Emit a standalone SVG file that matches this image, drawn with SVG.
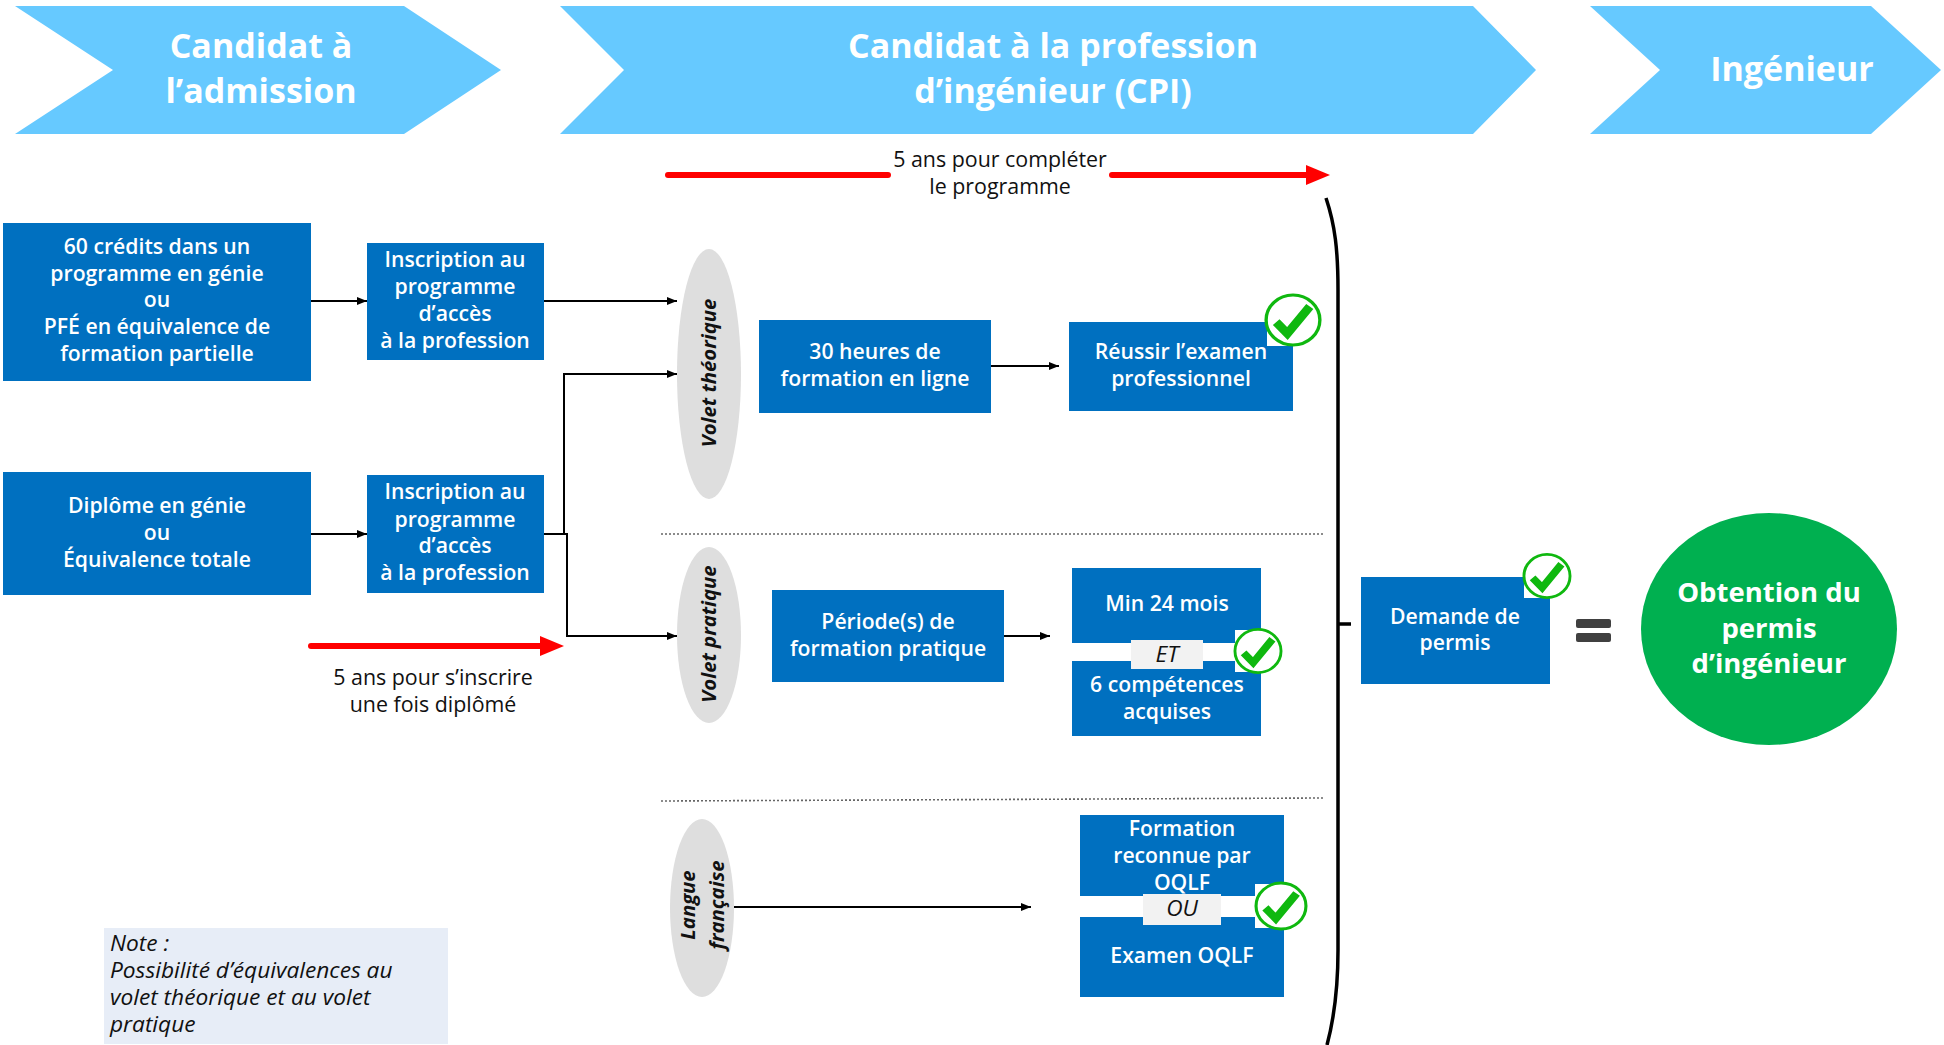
<svg xmlns="http://www.w3.org/2000/svg" width="1944" height="1045" viewBox="0 0 1944 1045">
<style>
text{font-family:"Open Sans","Noto Sans","Liberation Sans",sans-serif;text-anchor:middle}
.chev{fill:#66c9ff}
.hd{fill:#fff;font-size:34px;font-weight:700}
.box{fill:#0070c0}
.t{fill:#fff;font-size:21.2px;font-weight:600}
.e{fill:#dedede}
.v{fill:#111;font-size:20.3px;font-weight:700;font-style:italic}
.c{fill:none;stroke:#000;stroke-width:2}
.r{fill:none;stroke:#f00;stroke-width:6;stroke-linecap:round}
.dot{fill:none;stroke:#666;stroke-width:1.6;stroke-dasharray:2 2}
.k{fill:#111;font-size:21.4px}
.lab{fill:#f2f2f2}
.it{fill:#111;font-size:22.7px;font-style:italic}
.sq{fill:#fff}
.cc{fill:#fff;stroke:#0fb80f;stroke-width:3}
.tick{fill:none;stroke:#0fb80f;stroke-width:8}
.big{fill:#fff;font-size:27.5px;font-weight:700}
</style>
<defs>
<marker id="a" markerWidth="10" markerHeight="8" refX="10" refY="4" orient="auto" markerUnits="userSpaceOnUse"><path d="M0 0L10 4L0 8Z" fill="#000"/></marker>
<g id="ck"><circle class="cc" cx="0" cy="0" r="24"/><path d="M-15 2L-5 13L15 -13" class="tick"/></g>
</defs>

<g id="phase-admission"><polygon class="chev" points="15,6 404,6 501,70 404,134 15,134 113,70"/><text class="hd" x="261" y="58">Candidat à</text><text class="hd" x="261" y="103">l’admission</text></g>
<g id="phase-cpi"><polygon class="chev" points="560,6 1473,6 1536,70 1473,134 560,134 624,70"/><text class="hd" x="1053" y="58">Candidat à la profession</text><text class="hd" x="1053" y="103">d’ingénieur (CPI)</text></g>
<g id="phase-ing"><polygon class="chev" points="1590,6 1871,6 1941,70 1871,134 1590,134 1660,70"/><text class="hd" x="1792" y="81">Ingénieur</text></g>

<g id="connectors">
<path class="c" marker-end="url(#a)" d="M311 301H367"/>
<path class="c" marker-end="url(#a)" d="M544 301H677"/>
<path class="c" marker-end="url(#a)" d="M311 534H367"/>
<path class="c" marker-end="url(#a)" d="M544 534H564V374H677"/>
<path class="c" marker-end="url(#a)" d="M564 534H567V636H677"/>
<path class="c" marker-end="url(#a)" d="M991 366H1059"/>
<path class="c" marker-end="url(#a)" d="M1004 636H1050"/>
<path class="c" marker-end="url(#a)" d="M734 907H1031"/>
<path class="r" d="M311 646H540"/>
<polygon fill="#f00" points="540,636 564,646 540,656"/>
<path class="r" d="M668 175H888"/>
<path class="r" d="M1112 175H1306"/>
<polygon fill="#f00" points="1306,165 1330,175 1306,185"/>
<path class="dot" d="M661 534H1323"/>
<path class="dot" d="M661 801L1323 798"/>
<path d="M1326 198C1335 225 1338 250 1338 290V950C1338 985 1335 1015 1327 1045M1338 624H1351" fill="none" stroke="#000" stroke-width="3.5"/>
</g>

<g id="n1"><rect class="box" x="3" y="223" width="308" height="158"/><text class="t" x="157" y="254">60 crédits dans un</text><text class="t" x="157" y="281">programme en génie</text><text class="t" x="157" y="307">ou</text><text class="t" x="157" y="334">PFÉ en équivalence de</text><text class="t" x="157" y="361">formation partielle</text></g>
<g id="n2"><rect class="box" x="367" y="243" width="177" height="117"/><text class="t" x="455" y="267">Inscription au</text><text class="t" x="455" y="294">programme</text><text class="t" x="455" y="321">d’accès</text><text class="t" x="455" y="348">à la profession</text></g>
<g id="n3"><rect class="box" x="3" y="472" width="308" height="123"/><text class="t" x="157" y="513">Diplôme en génie</text><text class="t" x="157" y="540">ou</text><text class="t" x="157" y="567">Équivalence totale</text></g>
<g id="n4"><rect class="box" x="367" y="475" width="177" height="118"/><text class="t" x="455" y="499">Inscription au</text><text class="t" x="455" y="527">programme</text><text class="t" x="455" y="553">d’accès</text><text class="t" x="455" y="580">à la profession</text></g>

<g id="label-5ans-inscrire"><text class="k" x="433" y="685">5 ans pour s’inscrire</text><text class="k" x="433" y="712">une fois diplômé</text></g>
<g id="label-5ans-completer"><text class="k" x="1000" y="167">5 ans pour compléter</text><text class="k" x="1000" y="194">le programme</text></g>

<g id="volet-theorique"><ellipse class="e" cx="709" cy="374" rx="32" ry="125"/><text class="v" transform="translate(716 373) rotate(-90)">Volet théorique</text></g>
<g id="volet-pratique"><ellipse class="e" cx="709" cy="635" rx="32" ry="88"/><text class="v" transform="translate(716 634) rotate(-90)">Volet pratique</text></g>
<g id="langue"><ellipse class="e" cx="702" cy="908" rx="32" ry="89"/><text class="v" transform="translate(695 905) rotate(-90)">Langue</text><text class="v" transform="translate(724 905) rotate(-90)">française</text></g>

<g id="n5"><rect class="box" x="759" y="320" width="232" height="93"/><text class="t" x="875" y="359">30 heures de</text><text class="t" x="875" y="386">formation en ligne</text></g>
<g id="n6"><rect class="box" x="1069" y="322" width="224" height="89"/><text class="t" x="1181" y="359">Réussir l’examen</text><text class="t" x="1181" y="386">professionnel</text><rect class="sq" x="1267" y="322" width="26" height="24"/><use href="#ck" transform="translate(1293 320) scale(1.12 1.04)"/></g>
<g id="n7"><rect class="box" x="772" y="590" width="232" height="92"/><text class="t" x="888" y="629">Période(s) de</text><text class="t" x="888" y="656">formation pratique</text></g>
<g id="n8"><rect class="box" x="1072" y="568" width="189" height="75"/><text class="t" x="1167" y="611">Min 24 mois</text><rect class="box" x="1072" y="661" width="189" height="75"/><text class="t" x="1167" y="692">6 compétences</text><text class="t" x="1167" y="719">acquises</text><rect class="lab" x="1131" y="640" width="72" height="29"/><text class="it" x="1167" y="662">ET</text><rect class="sq" x="1235" y="630" width="27" height="42"/><use href="#ck" transform="translate(1258 651) scale(.96 .9)"/></g>
<g id="n9"><rect class="box" x="1080" y="815" width="204" height="81"/><text class="t" x="1182" y="836">Formation</text><text class="t" x="1182" y="863">reconnue par</text><text class="t" x="1182" y="890">OQLF</text><rect class="box" x="1080" y="917" width="204" height="80"/><text class="t" x="1182" y="963">Examen OQLF</text><rect class="lab" x="1143" y="894" width="78" height="31"/><text class="it" x="1182" y="916">OU</text><rect class="sq" x="1255" y="884" width="29" height="44"/><use href="#ck" transform="translate(1281 906) scale(1.04 .96)"/></g>
<g id="n10"><rect class="box" x="1361" y="577" width="189" height="107"/><text class="t" x="1455" y="624">Demande de</text><text class="t" x="1455" y="650">permis</text><rect class="sq" x="1524" y="577" width="26" height="21"/><use href="#ck" transform="translate(1547 576) scale(.96 .9)"/></g>
<g id="equals"><rect x="1576" y="619" width="35" height="9" rx="2" fill="#404040"/><rect x="1576" y="633" width="35" height="9" rx="2" fill="#404040"/></g>
<g id="n11"><ellipse cx="1769" cy="629" rx="128" ry="116" fill="#00b050"/><text class="big" x="1769" y="602">Obtention du</text><text class="big" x="1769" y="638">permis</text><text class="big" x="1769" y="673">d’ingénieur</text></g>
<g id="note"><rect x="104" y="928" width="344" height="116" fill="#e7edf7"/><text class="it" style="text-anchor:start" x="110" y="951">Note :</text><text class="it" style="text-anchor:start" x="110" y="978">Possibilité d’équivalences au</text><text class="it" style="text-anchor:start" x="110" y="1005">volet théorique et au volet</text><text class="it" style="text-anchor:start" x="110" y="1032">pratique</text></g>
</svg>
